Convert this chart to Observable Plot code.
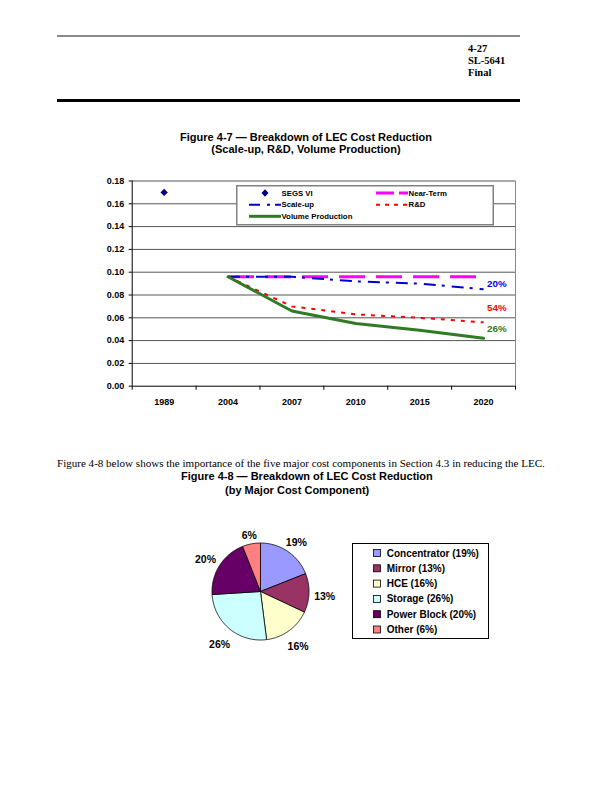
<!DOCTYPE html>
<html><head><meta charset="utf-8">
<script src="https://cdn.jsdelivr.net/npm/d3@7"></script>
<script src="https://cdn.jsdelivr.net/npm/@observablehq/plot@0.6"></script>
<style>
html,body{margin:0;padding:0;background:#fff}
body{width:612px;height:792px;position:relative;overflow:hidden}
.abs{position:absolute}
.serif{font-family:"Liberation Serif","Times New Roman",serif;color:#000}
.sans{font-family:"Liberation Sans",Arial,sans-serif;color:#000}
svg{display:block}
</style></head><body>
<div class="abs" style="left:57px;top:35px;width:463px;height:2px;background:#8a8a8a"></div>
<div class="abs serif" style="left:468px;top:42.5px;font-size:10.5px;font-weight:bold;line-height:12.2px">4-27<br>SL-5641<br>Final</div>
<div class="abs" style="left:57px;top:99px;width:463px;height:2.5px;background:#000"></div>
<div class="abs sans" style="left:0;width:612px;top:131px;text-align:center;font-size:11px;font-weight:bold;line-height:12px">Figure 4-7 — Breakdown of LEC Cost Reduction<br>(Scale-up, R&amp;D, Volume Production)</div>
<div id="c1" class="abs" style="left:70px;top:170px"></div>
<div id="leg1" class="abs" style="left:236px;top:185px"></div>
<div class="abs serif" style="left:57px;top:457px;font-size:11.05px;white-space:nowrap">Figure 4-8 below shows the importance of the five major cost components in Section 4.3 in reducing the LEC.</div>
<div class="abs sans" style="left:181px;top:470px;font-size:11px;font-weight:bold;white-space:nowrap">Figure 4-8 — Breakdown of LEC Cost Reduction</div>
<div class="abs sans" style="left:225px;top:484px;font-size:11px;font-weight:bold;white-space:nowrap">(by Major Cost Component)</div>
<div id="c2" class="abs" style="left:179.5px;top:516.4px"></div>
<div id="leg2" class="abs" style="left:352px;top:543px"></div>
<script>
// ---------- Figure 4-7 data ----------
const years = ["1989","2004","2007","2010","2015","2020"];
const segsYears = ["1989"];
const segsVI = [0.170];
const projYears = ["2004","2007","2010","2015","2020"];
const nearTerm = [0.096,0.096,0.096,0.096,0.096];
const scaleUp  = [0.096,0.096,0.092,0.090,0.085];
const rnd      = [0.096,0.070,0.063,0.060,0.056];
const volume   = [0.096,0.066,0.055,0.049,0.042];
const yTicks = [0.00,0.02,0.04,0.06,0.08,0.10,0.12,0.14,0.16,0.18];
const seriesNames = ["SEGS VI","Near-Term","Scale-up","R&D","Volume Production"];
const endLabels = ["20%","54%","26%"];

// ---------- Figure 4-8 data ----------
const components = ["Concentrator","Mirror","HCE","Storage","Power Block","Other"];
const shares = [19,13,16,26,20,6];

// styles
const C_NEAR="#FF00FF", C_SCALE="#0000CC", C_RND="#FF0000", C_VOL="#2E7B23", C_SEGS="#000080";
const D_NEAR="26,11", D_SCALE="12,6,3,7", D_RND="4,6";
const pieColors = ["#9999FF","#993366","#FFFFCC","#CCFFFF","#660066","#FF8080"];
const FONT = "Liberation Sans, Arial, sans-serif";

const idx = y => years.indexOf(y);
const rows = vals => projYears.map((yr,i)=>({i: idx(yr), v: vals[i]}));
const bounds = years.map((_,i)=>i-0.5).concat([years.length-0.5]);
const centers = years.map((_,i)=>i);

const chart1 = Plot.plot({
  width:460, height:245,
  marginLeft:61.7, marginRight:15, marginTop:10.5, marginBottom:29.3,
  style:{fontFamily:FONT, fontWeight:"bold", fontSize:"9px", color:"#000", background:"transparent"},
  x:{type:"linear", domain:[-0.5, years.length-0.5]},
  y:{domain:[0,0.18]},
  marks:[
    Plot.gridY(yTicks.slice(1), {stroke:"#555", strokeOpacity:1}),
    Plot.ruleX([years.length-0.5], {stroke:"#888", strokeWidth:1}),
    Plot.ruleX([-0.5], {stroke:"#000"}),
    Plot.ruleY([0], {stroke:"#000"}),
    Plot.axisY(yTicks, {tickFormat:d3.format(".2f"), tickSize:3, tickPadding:5, label:null, fontSize:9}),
    Plot.axisX(bounds, {tickFormat:()=>"", tickSize:4, label:null}),
    Plot.axisX(centers, {tickFormat:i=>years[i], tickSize:0, tickPadding:12, label:null, fontSize:9}),
    Plot.line(rows(nearTerm), {x:"i", y:"v", stroke:C_NEAR, strokeWidth:3, strokeDasharray:D_NEAR, strokeLinecap:"butt"}),
    Plot.line(rows(scaleUp), {x:"i", y:"v", stroke:C_SCALE, strokeWidth:2, strokeDasharray:D_SCALE, strokeLinecap:"butt"}),
    Plot.line(rows(rnd), {x:"i", y:"v", stroke:C_RND, strokeWidth:2, strokeDasharray:D_RND, strokeLinecap:"butt"}),
    Plot.line(rows(volume), {x:"i", y:"v", stroke:C_VOL, strokeWidth:3}),
    Plot.dot(segsYears.map((yr,k)=>({i:idx(yr), v:segsVI[k]})), {x:"i", y:"v", symbol:"diamond2", r:3.3, fill:C_SEGS, stroke:"none"}),
    Plot.text([endLabels[0]], {x:()=>idx(projYears[projYears.length-1]), y:()=>scaleUp[scaleUp.length-1], text:d=>d, dx:3.5, dy:-5.5, textAnchor:"start", fill:"#0000FF", fontSize:9.8, fontWeight:"bold"}),
    Plot.text([endLabels[1]], {x:()=>idx(projYears[projYears.length-1]), y:()=>rnd[rnd.length-1], text:d=>d, dx:3.5, dy:-15, textAnchor:"start", fill:"#FF0000", fontSize:9.8, fontWeight:"bold"}),
    Plot.text([endLabels[2]], {x:()=>idx(projYears[projYears.length-1]), y:()=>volume[volume.length-1], text:d=>d, dx:3.5, dy:-9.5, textAnchor:"start", fill:C_VOL, fontSize:9.8, fontWeight:"bold"})
  ]
});
document.getElementById("c1").appendChild(chart1);

// Legend for Figure 4-7
(function(){
  const svg=d3.create("svg").attr("width",259).attr("height",41)
    .style("font-family",FONT).style("font-weight","bold").style("font-size","7.8px");
  svg.append("rect").attr("x",0.75).attr("y",0.75).attr("width",256.5).attr("height",39)
    .attr("fill","#fff").attr("stroke","#808080").attr("stroke-width",1.5);
  const items = [
    {name:seriesNames[0], x:13, y:8, kind:"dot"},
    {name:seriesNames[1], x:140, y:8, stroke:C_NEAR, w:3, dash:"18,5"},
    {name:seriesNames[2], x:13, y:19.7, stroke:C_SCALE, w:2, dash:"11,7,3,5"},
    {name:seriesNames[3], x:140, y:19.7, stroke:C_RND, w:2, dash:"4,5"},
    {name:seriesNames[4], x:13, y:31.3, stroke:C_VOL, w:3, dash:null}
  ];
  items.forEach(it=>{
    if(it.kind==="dot"){
      svg.append("path").attr("d",`M${it.x+16},${it.y-3.8}L${it.x+19.5},${it.y}L${it.x+16},${it.y+3.8}L${it.x+12.5},${it.y}Z`).attr("fill",C_SEGS);
    } else {
      const l=svg.append("line").attr("x1",it.x).attr("x2",it.x+32).attr("y1",it.y).attr("y2",it.y)
        .attr("stroke",it.stroke).attr("stroke-width",it.w);
      if(it.dash) l.attr("stroke-dasharray",it.dash);
    }
    svg.append("text").attr("x",it.x+32.5).attr("y",it.y).attr("dy","0.35em").text(it.name);
  });
  document.getElementById("leg1").appendChild(svg.node());
})();

// ---------- Figure 4-8 pie ----------
const R = 48.5, W2 = 160, H2 = 150;
const arcs = d3.pie().sort(null).value(d=>d)(shares);
function slicePts(a){
  const pts=[{x:0,y:0}];
  const n=Math.max(2,Math.ceil((a.endAngle-a.startAngle)/(Math.PI/180)));
  for(let j=0;j<=n;j++){const t=a.startAngle+(a.endAngle-a.startAngle)*j/n; pts.push({x:Math.sin(t),y:Math.cos(t)});}
  pts.push({x:0,y:0});
  return pts;
}
const LFS = 10.5;
const pieLabels = arcs.map((a,k)=>{
  const t=(a.startAngle+a.endAngle)/2;
  const txt = shares[k]+"%";
  const w = LFS*(0.556*String(shares[k]).length+0.889), h = LFS;
  const rl = (R + 5 + (w/2)*Math.abs(Math.sin(t)) + (h/2)*Math.abs(Math.cos(t)))/R;
  return {x:rl*Math.sin(t), y:rl*Math.cos(t), t:txt};
});
const chart2 = Plot.plot({
  width:W2, height:H2, margin:0,
  style:{fontFamily:FONT, fontWeight:"bold", color:"#000", background:"transparent"},
  x:{domain:[-(W2/2)/R,(W2/2)/R], axis:null},
  y:{domain:[-(H2/2)/R,(H2/2)/R], axis:null},
  marks:[
    ...arcs.map((a,k)=>Plot.line(slicePts(a),{x:"x",y:"y",fill:pieColors[k],stroke:"#000",strokeWidth:0.8,strokeLinejoin:"miter"})),
    Plot.text(pieLabels,{x:"x",y:"y",text:"t",fontSize:LFS,fontWeight:"bold",fill:"#000",dy:3.5})
  ]
});
document.getElementById("c2").appendChild(chart2);

// Legend for Figure 4-8
(function(){
  const svg=d3.create("svg").attr("width",137).attr("height",96)
    .style("font-family",FONT).style("font-weight","bold").style("font-size","10px");
  svg.append("rect").attr("x",0.5).attr("y",0.5).attr("width",136).attr("height",95)
    .attr("fill","#fff").attr("stroke","#000").attr("stroke-width",1);
  components.forEach((c,k)=>{
    const y=10+k*15.3;
    svg.append("rect").attr("x",21.5).attr("y",y-3.5).attr("width",7).attr("height",7)
      .attr("fill",pieColors[k]).attr("stroke","#000").attr("stroke-width",0.8);
    svg.append("text").attr("x",34.7).attr("y",y).attr("dy","0.35em").text(`${c} (${shares[k]}%)`);
  });
  document.getElementById("leg2").appendChild(svg.node());
})();
</script>
</body></html>
